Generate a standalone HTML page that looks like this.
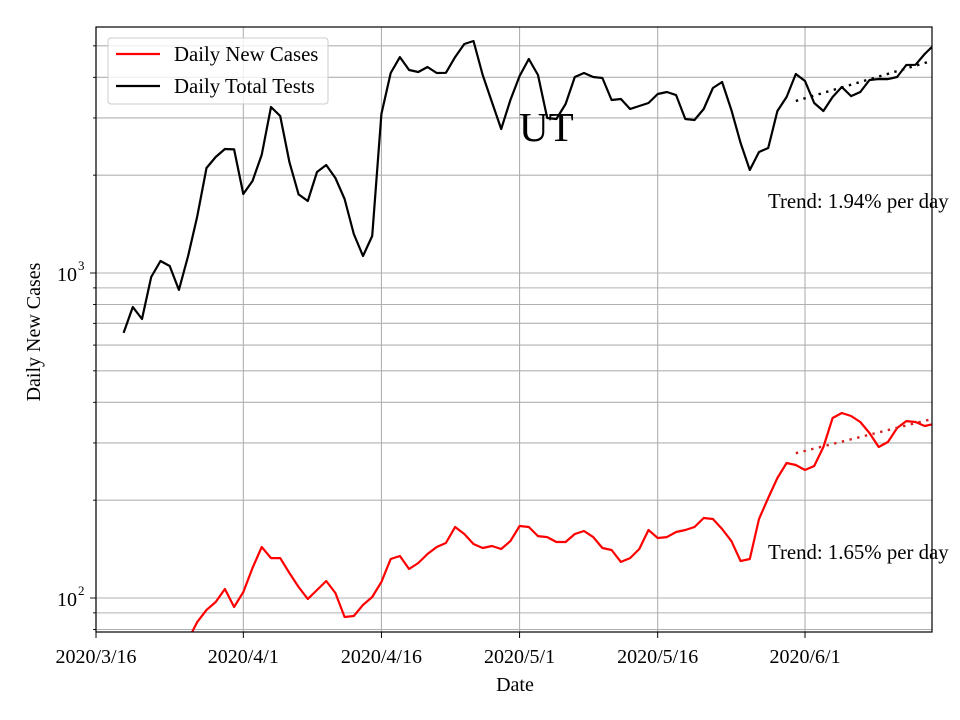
<!DOCTYPE html>
<html><head><meta charset="utf-8"><style>
body{margin:0;background:#fff}
svg{display:block;font-family:"Liberation Serif","DejaVu Serif",serif}
</style></head><body>
<svg id="chart" width="960" height="720" viewBox="0 0 960 720" xmlns="http://www.w3.org/2000/svg">
<defs><clipPath id="plotclip"><rect x="96" y="27" width="836" height="605"/></clipPath></defs>
<rect x="0" y="0" width="960" height="720" fill="#fff"/>
<g id="grid"></g>
<g id="series" clip-path="url(#plotclip)"></g>
<g id="axes"></g>
</svg>
<script>
const testDays = [3,4,5,6,7,8,9,10,11,12,13,14,15,16,17,18,19,20,21,22,23,24,25,26,27,28,29,30,31,32,33,34,35,36,37,38,39,40,41,42,43,44,45,46,47,48,49,50,51,52,53,54,55,56,57,58,59,60,61,62,63,64,65,66,67,68,69,70,71,72,73,74,75,76,77,78,79,80,81,82,83,84,85,86,87,88,89,90,91];
const testValues = [654,786,722,972,1089,1051,887,1128,1497,2104,2275,2408,2400,1750,1919,2308,3242,3042,2195,1745,1665,2046,2149,1960,1689,1318,1128,1300,3085,4124,4618,4213,4154,4303,4124,4130,4618,5065,5173,4066,3358,2774,3406,4038,4554,4066,2999,2978,3311,4010,4124,4010,3981,3406,3430,3195,3264,3335,3554,3605,3528,2978,2957,3195,3709,3870,3172,2512,2075,2357,2425,3150,3479,4095,3897,3335,3150,3479,3736,3503,3605,3925,3953,3950,4010,4365,4370,4719,5029];
const caseDays = [10,11,12,13,14,15,16,17,18,19,20,21,22,23,24,25,26,27,28,29,30,31,32,33,34,35,36,37,38,39,40,41,42,43,44,45,46,47,48,49,50,51,52,53,54,55,56,57,58,59,60,61,62,63,64,65,66,67,68,69,70,71,72,73,74,75,76,77,78,79,80,81,82,83,84,85,86,87,88,89,90,91];
const caseValues = [74.3,84.4,91.9,97.2,106.6,93.8,104.3,123.7,143.5,132.7,132.7,119.4,108.1,99.3,105.8,112.8,103.6,87.4,88.0,95.2,100.7,112.0,131.8,134.7,122.8,128.1,136.6,143.5,147.6,165.4,157.4,146.6,142.5,144.5,141.5,149.7,166.5,165.4,155.1,154.0,148.7,148.7,157.4,160.8,154.0,142.5,140.5,129.1,132.7,141.5,161.9,153.0,154.0,159.6,161.9,165.4,176.2,175.0,163.1,149.7,130.0,131.8,175.0,203.1,234.0,260.3,256.6,247.7,254.8,291.5,357.9,370.9,363.1,347.9,321.9,291.5,302.0,333.5,350.3,347.9,338.2,343.0];
const trendStartDay = 76, trendEndDay = 91;
const testTrendStart = 3383, testTrendRate = 0.0194;
const caseTrendStart = 279, caseTrendRate = 0.0165;
const xTickDays = [0,16,31,46,61,77];
const xTickLabels = ["2020/3/16","2020/4/1","2020/4/16","2020/5/1","2020/5/16","2020/6/1"];

const L=96,R=932,T=27,B=632;
const dayMax=(R-L)/9.208;
const logTop=3+(273-T)/325, logBot=2-(B-598)/325;
const X=d=>L+(d/dayMax)*(R-L);
const Y=v=>T+(logTop-Math.log10(v))/(logTop-logBot)*(B-T);
const NS="http://www.w3.org/2000/svg";
function mk(tag,attrs,parent,text){const e=document.createElementNS(NS,tag);for(const k in attrs)e.setAttribute(k,attrs[k]);if(text!==undefined)e.textContent=text;parent.appendChild(e);return e;}
const grid=document.getElementById('grid'),series=document.getElementById('series'),axes=document.getElementById('axes');

const yGridVals=[80,90,100,200,300,400,500,600,700,800,900,1000,2000,3000,4000,5000];
yGridVals.forEach(v=>{const y=Y(v);
 const g=mk('line',{x1:L,x2:R,y1:y,y2:y,stroke:'#b0b0b0','stroke-width':1.1},grid);
 
 
 const t=mk('line',{x1:L,x2:L-((v===100||v===1000)?6:3),y1:y,y2:y,stroke:'#000','stroke-width':0.9},axes);
 
 
});
xTickDays.forEach((d,i)=>{const x=X(d);
 const g=mk('line',{x1:x,x2:x,y1:T,y2:B,stroke:'#b0b0b0','stroke-width':1.1},grid);
 
 
 const t=mk('line',{x1:x,x2:x,y1:B,y2:B+6,stroke:'#000','stroke-width':1},axes);
 
 
 const lb=mk('text',{x:x,y:B+31,'text-anchor':'middle','font-size':20},axes,xTickLabels[i]);
 
 
});
[[100,'2'],[1000,'3']].forEach(([v,e])=>{
 const t=mk('text',{x:77,y:Y(v)+8,'text-anchor':'end','font-size':20},axes,'10');
 
 
 const s=mk('text',{x:78,y:Y(v)-3,'font-size':13},axes,e);
 
 
});

function path(days,vals){return days.map((d,i)=>(i?'L':'M')+X(d).toFixed(1)+','+Y(vals[i]).toFixed(1)).join('');}
const pc=mk('path',{d:path(caseDays,caseValues),fill:'none',stroke:'#ff0000','stroke-width':2.2,'stroke-linejoin':'round'},series);


const pt=mk('path',{d:path(testDays,testValues),fill:'none',stroke:'#000','stroke-width':2.2,'stroke-linejoin':'round'},series);


function trend(start,rate){const n=trendEndDay-trendStartDay;return 'M'+X(trendStartDay)+','+Y(start)+'L'+X(trendEndDay)+','+Y(start*Math.pow(1+rate,n));}
const tt=mk('path',{d:trend(testTrendStart,testTrendRate),stroke:'#000','stroke-width':2.4,'stroke-dasharray':'2.4,5.5',fill:'none'},series);


const ct=mk('path',{d:trend(caseTrendStart,caseTrendRate),stroke:'#d62020','stroke-width':2.4,'stroke-dasharray':'2.4,5.5',fill:'none'},series);



const frame=mk('rect',{x:L,y:T,width:R-L,height:B-T,fill:'none',stroke:'#000','stroke-width':1.2},axes);



const ut=mk('text',{x:519,y:141,'font-size':41},axes,'UT');


const t1=mk('text',{x:768,y:208,'font-size':20.8},axes,'Trend: 1.94% per day');


const t2=mk('text',{x:768,y:559,'font-size':20.8},axes,'Trend: 1.65% per day');


const xl=mk('text',{x:515,y:691,'text-anchor':'middle','font-size':20},axes,'Date');


const yl=mk('text',{x:0,y:0,'text-anchor':'middle','font-size':20,transform:'translate(40,332) rotate(-90)'},axes,'Daily New Cases');



const lg=mk('g',{},axes);


mk('rect',{x:108,y:38,width:220,height:66,rx:3,fill:'#fff','fill-opacity':0.8,stroke:'#ccc','stroke-width':1},lg);
const e1=mk('g',{},lg);


mk('line',{x1:116,x2:160,y1:54,y2:54,stroke:'#ff0000','stroke-width':2.2},e1);
mk('text',{x:174,y:61,'font-size':20.8},e1,'Daily New Cases');
const e2=mk('g',{},lg);


mk('line',{x1:116,x2:160,y1:86,y2:86,stroke:'#000','stroke-width':2.2},e2);
mk('text',{x:174,y:93,'font-size':20.8},e2,'Daily Total Tests');
</script>
</body></html>
